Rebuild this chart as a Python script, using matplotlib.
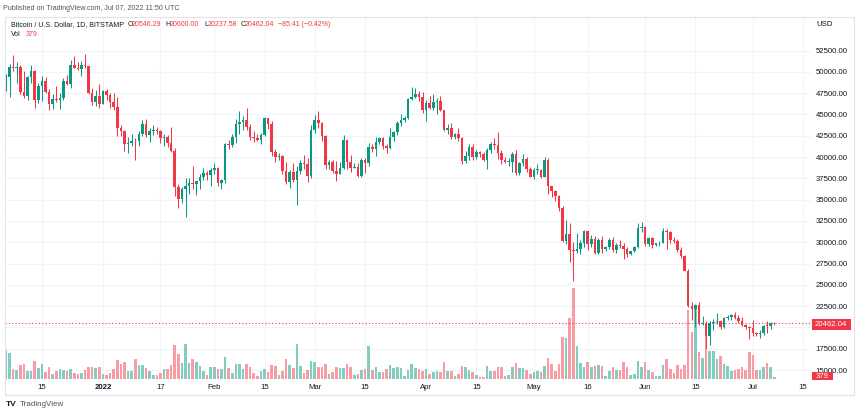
import matplotlib
matplotlib.use('Agg')
import matplotlib.pyplot as plt
import matplotlib.dates as mdates
import matplotlib.transforms as mtransforms
from matplotlib.patches import Rectangle
import pandas as pd

W, H = 860, 416
dates = pd.date_range('2021-12-05', '2022-07-07', freq='D')

opens = [
    49200, 49400, 50580, 50500, 50600, 47600, 47150, 49380, 50100, 46700, 48350, 48880, 47650, 46200,
    46850, 46700, 46900, 48950, 48600, 50800, 50450, 50300, 50800, 50700, 47550, 46450, 47150,
    46200, 47700, 47300, 46450, 45850, 43450, 43100, 41550, 41700, 41850, 41820, 42750, 43900, 42600,
    43100, 43150, 43100, 42200, 42350, 41700, 40700, 36450, 35050, 36250, 36650, 36950, 36850, 37150,
    37700, 38150, 37900,
    38450, 38700, 36900, 37300, 41550, 41400, 42400, 43850, 44100, 44350, 43550, 42400, 42200, 42050,
    42550, 44550, 43900, 40550, 40000, 40100, 38400, 37050, 38250, 37300, 38350, 39250, 39150, 37750,
    43200, 44400, 43950, 42450, 39100, 39400, 38400, 38050, 38750, 41950, 39450, 38750, 38850, 37800,
    39700, 39300, 41150, 40950, 41800, 42200, 41250, 41050, 42400, 42900, 43950, 44350, 44550, 46800,
    47100, 47450, 47100,
    45550, 46300, 45800, 46450, 46600, 45500, 43200, 43450, 42300, 42750, 42200, 39500, 40100, 41150,
    39950, 40550, 40400, 39700, 40800, 41500, 41350, 40500, 39700, 39450, 39450, 40400, 38100, 39250,
    39750, 38600,
    37650, 38450, 38500, 37700, 39700, 36550, 36000, 35450, 34050, 30100, 31000, 29050, 28950, 29250,
    29850, 31300, 29800, 30400, 28700, 30300, 29200, 29400, 30250, 29100, 29650, 29500, 29200, 28600,
    28950, 29450, 31700,
    31800, 29800, 30450, 29700, 29850, 29900, 31350, 31150, 30200, 30100, 29100, 28400, 26600, 22500,
    22150, 22600, 20400, 20500, 19000, 20550, 20600, 20700, 20000, 21100, 21250, 21500, 21050, 20700,
    20300, 20100,
    19900, 19300, 19250, 19300, 20200, 20150, 20546.29,
]
highs = [
    49750, 50900, 51950, 51200, 50800, 50050, 49500, 50750, 50250, 48700, 49450, 49400, 48000, 47350,
    48300, 47550, 49300, 49600, 51400, 51800, 51100, 51250, 52050, 50700, 48100, 47900, 48550,
    47900, 47950, 47550, 47500, 47050, 43750, 43150, 42300, 42750, 42250, 43000, 44350, 44450, 43450,
    43800, 43500, 43200, 42650, 42550, 43500, 41100, 36850, 36500, 37500, 37550, 38900, 37200, 38000,
    38700, 38350, 38700,
    39250, 38850, 37400, 41700, 41950, 42650, 44500, 45450, 44800, 45800, 43900, 43000, 42750, 42850,
    44750, 44600, 44200, 40950, 40500, 40200, 39450, 38450, 39250, 39000, 39700, 40250, 39850, 43800,
    44950, 45400, 44100, 42550, 39650, 39650, 39500, 39400, 42600, 42050, 40250, 39350, 39300, 39900,
    39900, 41700, 41500, 42300, 42400, 42300, 41550, 43350, 43000, 44200, 45100, 44800, 46950, 48200,
    48100, 47700, 47600,
    46700, 47200, 47450, 46900, 47200, 45500, 43900, 43950, 42800, 43400, 42400, 40700, 41550, 41500,
    40850, 40700, 40600, 41100, 41750, 42200, 42950, 40800, 39950, 39900, 40600, 40800, 39450, 40350,
    39950, 38800,
    38700, 39150, 38650, 40000, 39850, 36650, 36150, 35500, 34250, 32650, 32200, 30050, 31050, 30300,
    31400, 31350, 30800, 30700, 30550, 30750, 29600, 30450, 30650, 29850, 30200, 29850, 29400, 29000,
    29500, 32200, 32350,
    31950, 30650, 30650, 29950, 30150, 31700, 31550, 31300, 30650, 30350, 29450, 28550, 26850, 23000,
    22750, 22950, 21350, 20800, 20700, 20950, 21700, 20850, 21200, 21500, 21600, 21850, 21500, 21200,
    20400, 20200,
    20900, 19450, 19650, 20300, 20700, 20650, 20600.00,
]
lows = [
    47800, 47100, 50050, 48650, 47350, 46900, 46700, 48650, 45700, 46300, 46550, 47550, 45500, 45600,
    46400, 45600, 46650, 48450, 48100, 50400, 50200, 49450, 50500, 47350, 46100, 46000, 45700,
    46200, 46700, 45700, 45500, 42500, 42450, 40650, 40500, 41250, 39650, 41300, 42500, 42300, 41750,
    42600, 42650, 41600, 41300, 41200, 40600, 35450, 34050, 34650, 32950, 35700, 36300, 35500, 36200,
    37300, 37350, 36650,
    38000, 36600, 36250, 36950, 40950, 41150, 41650, 42700, 43150, 43200, 42000, 41750, 41850, 41550,
    42450, 43300, 40100, 39450, 39650, 38000, 36800, 36350, 37050, 34350, 38000, 38600, 37050, 37500,
    42850, 43350, 41850, 38600, 38600, 38100, 37200, 38000, 38650, 38550, 38250, 38700, 37600, 37600,
    38100, 38900, 40550, 40150, 41500, 40900, 40500, 40900, 41850, 42600, 43600, 44100, 44450, 46650,
    46950, 46600, 45200,
    44200, 45600, 45550, 45100, 45400, 43100, 42750, 42100, 42150, 41900, 39200, 39250, 39600, 39600,
    39800, 40050, 39550, 38550, 40500, 40900, 39750, 39200, 39300, 38950, 38200, 37850, 37900, 38900,
    38200, 37600,
    37400, 38050, 37500, 37700, 35600, 35250, 34800, 33700, 30050, 29750, 27700, 25400, 28700, 28600,
    29450, 29100, 29450, 28650, 28650, 28750, 28950, 29250, 28900, 28700, 29300, 28050, 28250, 28500,
    28850, 29300, 31200,
    29500, 29600, 29300, 29500, 29500, 29900, 29250, 29850, 29950, 28900, 28100, 26600, 22350, 20850,
    20100, 20250, 20250, 17600, 17950, 19650, 20400, 19800, 19900, 20900, 20900, 20950, 20500, 20200,
    19850, 18650,
    18950, 19000, 18800, 19050, 19300, 19800, 20237.58,
]
closes = [
    49400, 50580, 50500, 50600, 47600, 47150, 49380, 50100, 46700, 48350, 48880, 47650, 46200, 46850,
    46700, 46900, 48950, 48600, 50800, 50450, 50300, 50800, 50700, 47550, 46450, 47150, 46200,
    47700, 47300, 46450, 45850, 43450, 43100, 41550, 41700, 41850, 41820, 42750, 43900, 42600, 43100,
    43150, 43100, 42200, 42350, 41700, 40700, 36450, 35050, 36250, 36650, 36950, 36850, 37150, 37700,
    38150, 37900, 38450,
    38700, 36900, 37300, 41550, 41400, 42400, 43850, 44100, 44350, 43550, 42400, 42200, 42050, 42550,
    44550, 43900, 40550, 40000, 40100, 38400, 37050, 38250, 37300, 38350, 39250, 39150, 37750, 43200,
    44400, 43950, 42450, 39100, 39400, 38400, 38050, 38750, 41950, 39450, 38750, 38850, 37800, 39700,
    39300, 41150, 40950, 41800, 42200, 41250, 41050, 42400, 42900, 43950, 44350, 44550, 46800, 47100,
    47450, 47100, 45550,
    46300, 45800, 46450, 46600, 45500, 43200, 43450, 42300, 42750, 42200, 39500, 40100, 41150, 39950,
    40550, 40400, 39700, 40800, 41500, 41350, 40500, 39700, 39450, 39500, 40400, 38100, 39250, 39750,
    38600, 37650,
    38450, 38500, 37700, 39700, 36550, 36000, 35450, 34050, 30100, 31000, 29050, 28950, 29250, 29850,
    31300, 29800, 30400, 28700, 30300, 29200, 29400, 30250, 29100, 29650, 29500, 29200, 28600, 28950,
    29450, 31700, 31800,
    29800, 30450, 29700, 29850, 29900, 31350, 31150, 30200, 30100, 29100, 28400, 26600, 22500, 22150,
    22600, 20400, 20500, 19000, 20550, 20600, 20700, 20000, 21100, 21250, 21500, 21050, 20700, 20300,
    20100, 19900,
    19300, 19250, 19300, 20200, 20150, 20550, 20462.04,
]
volumes = [
    5800, 5200, 2000, 1800, 2800, 3000, 1600, 1600, 3600, 2200, 3000, 1400, 2400, 1000,
    1600, 2000, 1800, 1600, 2000, 1200, 1000, 1200, 1800, 2400, 2400, 2200, 2400,
    1000, 800, 1200, 2000, 3800, 3000, 3400, 1600, 1600, 4000, 2800, 2800, 2200, 1600,
    800, 800, 1200, 2000, 2000, 2800, 6800, 5000, 3200, 7000, 3200, 4000, 3400, 2600,
    1600, 800, 2400,
    2400, 2000, 2000, 4400, 2200, 1200, 3000, 3000, 2000, 3000, 2400, 1200, 600, 1600,
    2000, 1400, 2800, 2600, 800, 1600, 4000, 2800, 2200, 7000, 2600, 1200, 1800, 3600,
    3400, 2400, 2400, 3000, 1000, 1400, 2400, 2200, 2200, 3000, 2400, 800, 1000, 1800,
    2000, 6600, 1800, 2400, 1400, 1400, 2000, 2800, 2200, 2400, 2200, 600, 1800, 3000,
    2200, 2000, 1600,
    2000, 1000, 1400, 1600, 1400, 3400, 1600, 1600, 600, 1000, 2600, 2400, 1800, 1400,
    800, 400, 400, 2600, 1600, 1600, 2400, 2400, 600, 800, 2400, 3200, 2200, 2200,
    1800, 1000,
    1400, 1600, 1400, 2600, 4200, 3000, 1600, 3000, 8400, 8200, 12200, 18200, 6600, 3200,
    2400, 3400, 2400, 2600, 2800, 2600, 600, 1600, 2400, 1800, 1800, 3400, 2400, 800,
    1000, 3600, 2400,
    3400, 1800, 1400, 600, 600, 2800, 4000, 2000, 1200, 2800, 2000, 2800, 13800, 9400,
    14600, 5400, 4200, 9400, 5600, 5600, 4000, 4600, 3000, 2600, 1600, 1800, 2000, 2400,
    1800, 5400,
    4800, 1800, 1800, 2400, 3200, 2400, 379,
]

tick_dates = ['2021-12-15', '2022-01-01', '2022-01-17', '2022-02-01', '2022-02-15', '2022-03-01',
              '2022-03-15', '2022-04-01', '2022-04-15', '2022-05-01', '2022-05-16', '2022-06-01',
              '2022-06-15', '2022-07-01', '2022-07-15']
tick_labels = ['15', '2022', '17', 'Feb', '15', 'Mar', '15', 'Apr', '15', 'May', '16', 'Jun',
               '15', 'Jul', '15']
price_ticks = list(range(15000, 52501, 2500))
last_price = 20462.04
last_volume = 379

GREEN = '#089981'
RED = '#F23645'
GREEN_V = '#84ccc0'
RED_V = '#f99ba2'
GRID = '#f0f3fa'
TXT = '#131722'
FONT = 'Liberation Sans'
plt.rcParams['font.family'] = [FONT, 'DejaVu Sans']

fig = plt.figure(figsize=(8.6, 4.16), dpi=100)
fig.patch.set_facecolor('white')


def fx(px):
    return px / W


def fy(py):
    return 1 - py / H


PL, PR, PT, PB = 5, 811, 17, 379
rect = [fx(PL), fy(PB), fx(PR) - fx(PL), fy(PT) - fy(PB)]
axv = fig.add_axes(rect, zorder=0)
axp = fig.add_axes(rect, zorder=1)
axp.patch.set_visible(False)

x = mdates.date2num(dates)
x0 = x[0]
xlim = (x0 - 0.28, x0 + 224.2)
for a in (axv, axp):
    a.set_xlim(xlim)
    for s in a.spines.values():
        s.set_visible(False)
axp.set_ylim(13944, 56432)
axv.set_ylim(0, 362 * 200)
axv.set_xticks([])
axv.set_yticks([])

# grid
tx = mdates.date2num(pd.to_datetime(tick_dates))
for t in tx:
    axv.axvline(t, color=GRID, lw=0.8, zorder=0)
blend = mtransforms.blended_transform_factory(axv.transAxes, axp.transData)
for p in price_ticks:
    axv.plot([0, 1], [p, p], transform=blend, color=GRID, lw=0.8, zorder=0)

# volume
vcols = [GREEN_V if c >= o else RED_V for o, c in zip(opens, closes)]
axv.bar(x, volumes, width=0.72, color=vcols, zorder=1, linewidth=0)

# candles
cols = [GREEN if c >= o else RED for o, c in zip(opens, closes)]
axp.vlines(x, lows, highs, colors=cols, lw=0.75, zorder=2)
bottoms = [min(o, c) for o, c in zip(opens, closes)]
heights = [max(abs(c - o), 110) for o, c in zip(opens, closes)]
axp.bar(x, heights, bottom=bottoms, width=0.72, color=cols, zorder=3, linewidth=0)

# last price line
axp.axhline(last_price, color=RED, lw=0.8, ls=(0, (1, 2)), zorder=1)

# axes labels
axp.yaxis.tick_right()
axp.set_yticks(price_ticks)
axp.set_yticklabels([f'{p:.2f}' for p in price_ticks])
axp.tick_params(axis='y', length=0, pad=3.2, labelsize=5.6, labelcolor=TXT)
axp.set_xticks(tx)
axp.set_xticklabels(tick_labels)
axp.tick_params(axis='x', length=0, pad=3.5, labelsize=5.6, labelcolor=TXT)
for lab in axp.get_xticklabels():
    if lab.get_text() == '2022':
        lab.set_fontweight('bold')

# frame
fig.patches.append(Rectangle((fx(5), fy(395)), fx(854) - fx(5), fy(17) - fy(395), fill=False,
                             ec='#e0e3eb', lw=0.8, transform=fig.transFigure, zorder=5))

# price label
fig.patches.append(Rectangle((fx(811.5), fy(329.5)), fx(851) - fx(811.5), fy(319) - fy(329.5),
                             fc=RED, ec='none', transform=fig.transFigure, zorder=6))
fig.text(fx(815), fy(324.3), f'{last_price:.2f}', color='white', fontsize=5.6, va='center',
         ha='left', zorder=7)
fig.patches.append(Rectangle((fx(812), fy(379.5)), fx(833) - fx(812), fy(372) - fy(379.5),
                             fc=RED, ec='none', transform=fig.transFigure, zorder=6))
fig.text(fx(822.5), fy(376), f'{last_volume}', color='white', fontsize=5.6, va='center',
         ha='center', zorder=7)
fig.text(fx(816), fy(24), 'USD', color=TXT, fontsize=5.6, va='center', ha='left')

# header texts
HFS = 5.0
fig.text(fx(3), fy(8), 'Published on TradingView.com, Jul 07, 2022 11:50 UTC', color='#50535e',
         fontsize=5.15, va='center', ha='left')
fig.text(fx(11), fy(25), 'Bitcoin / U.S. Dollar, 1D, BITSTAMP', color=TXT, fontsize=HFS,
         va='center', ha='left')
legend_items = [(127.5, 'O', TXT), (132, f'{opens[-1]:.2f}', RED), (165.5, 'H', TXT),
                (170, f'{highs[-1]:.2f}', RED), (204, 'L', TXT), (207.5, f'{lows[-1]:.2f}', RED),
                (240.5, 'C', TXT), (245, f'{closes[-1]:.2f}', RED),
                (278, '\u221285.41 (\u22120.42%)', RED)]
for px, s, c in legend_items:
    fig.text(fx(px), fy(25), s, color=c, fontsize=HFS, va='center', ha='left')
fig.text(fx(11), fy(35), 'Vol', color=TXT, fontsize=HFS, va='center', ha='left')
fig.text(fx(26), fy(35), f'{last_volume}', color=RED, fontsize=HFS, va='center', ha='left')

# footer
fig.text(fx(6), fy(405), 'TV', color=TXT, fontsize=6, fontweight='bold', va='center', ha='left')
fig.text(fx(20), fy(405), 'TradingView', color='#50535e', fontsize=5.8, va='center', ha='left')

fig.savefig('out.png', dpi=100, facecolor='white')
